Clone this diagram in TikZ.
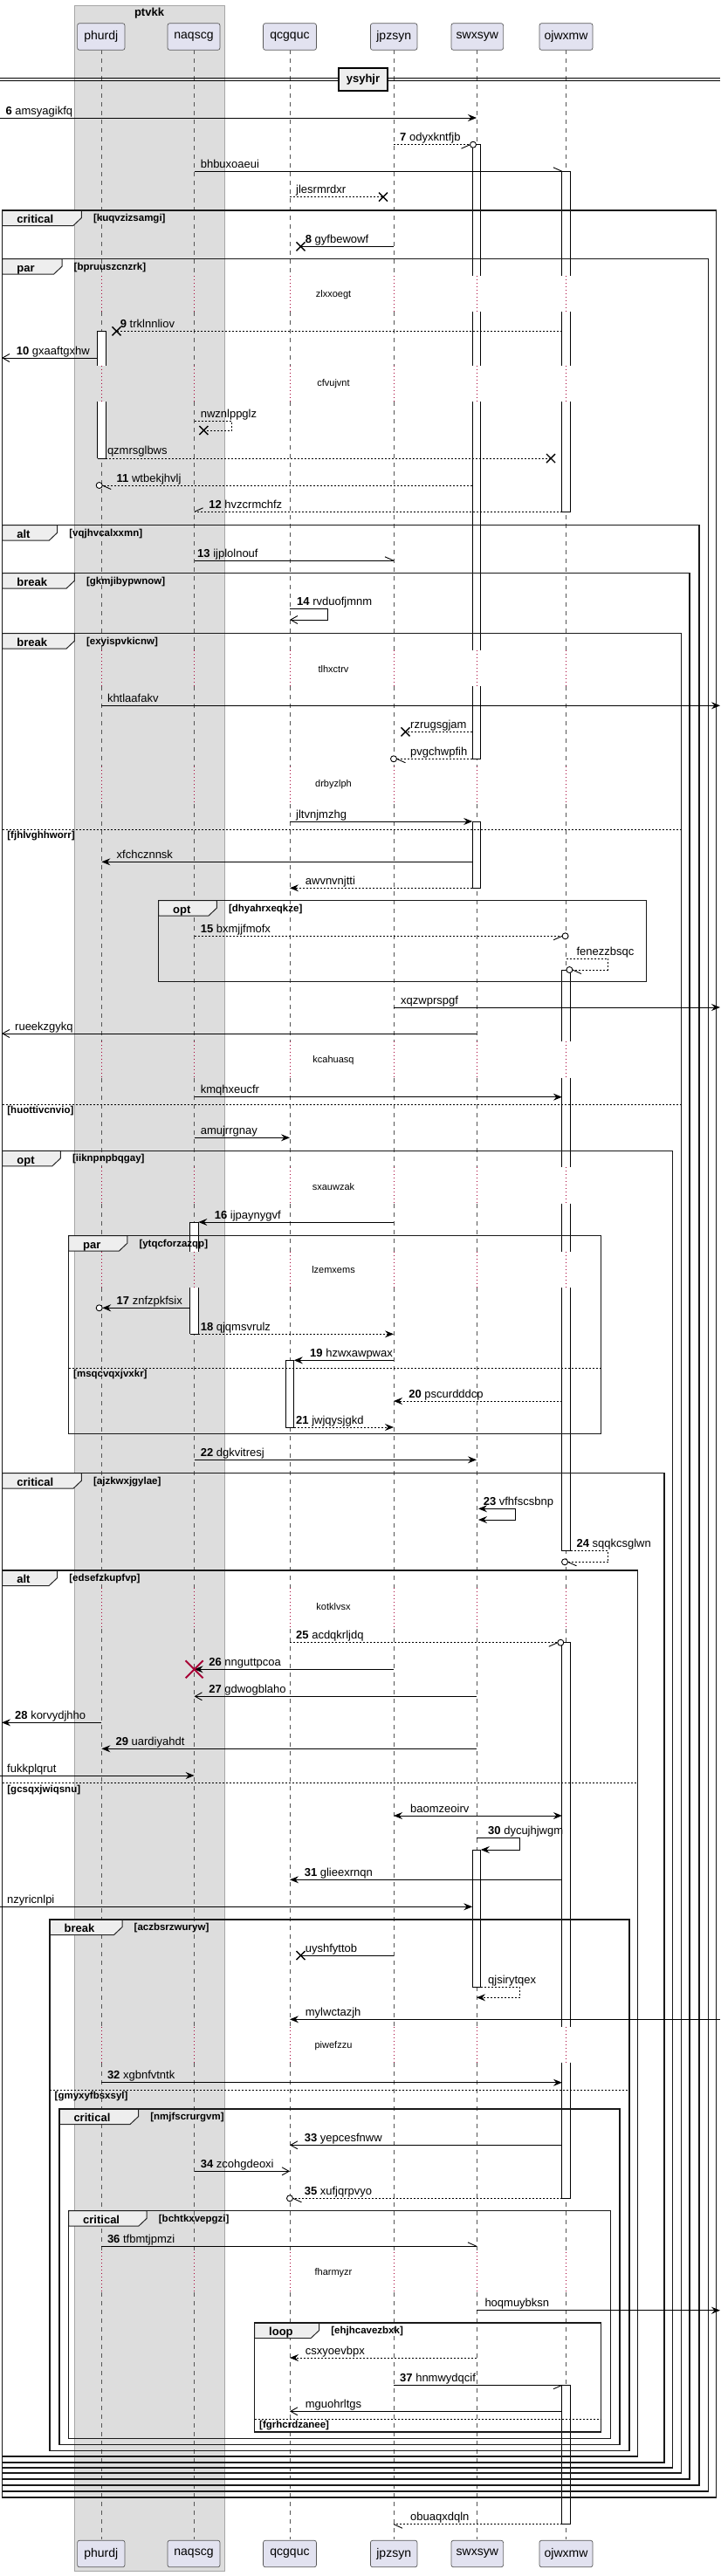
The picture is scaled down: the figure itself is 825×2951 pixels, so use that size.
\documentclass[tikz,border=0pt]{standalone}
\usepackage{fontspec}
\setmainfont{Liberation Sans}
\usetikzlibrary{arrows.meta}
\definecolor{partfill}{HTML}{E2E2F0}
\definecolor{grpfill}{HTML}{DDDDDD}
\definecolor{tabfill}{HTML}{EEEEEE}
\definecolor{delred}{HTML}{A80036}
\definecolor{lifegray}{HTML}{555555}
\newcommand{\Sq}[1]{\textbf{#1}\space}
\newcommand{\Lbl}[4]{\node[lbl] (#1) at (#2,#3) {#4};}
\newcommand{\Mg}[5]{\coordinate (#1a) at (#3,#5); \coordinate (#1b) at (#4,#5); \draw[#2] (#1a) -- (#1b);}
\newcommand{\Xmk}[2]{\draw[xm] (#1,#2) ++(-5,-5) -- ++(10,10) ++(0,-10) -- ++(-10,10);}
\newcommand{\Circ}[2]{\draw[line width=0.9pt, fill=white] (#1,#2) circle[radius=3.5pt];}
\newcommand{\Harp}[4]{\draw[msg] (#1,#2) -- ++(#3,#4);}
\newcommand{\Act}[3]{\fill[white] (#1-4.8,#2) rectangle (#1+4.8,#3); \draw[actbar] (#1-4.8,#2) -- (#1-4.8,#3) (#1+4.8,#2) -- (#1+4.8,#3);}
\newcommand{\Cap}[2]{\draw[actbar] (#1-4.8,#2) -- (#1+4.8,#2);}
\newcommand{\Frm}[8]{%
  \draw[tabst] (#2,#3) -- ++(#7,0) -- ++(0,8.5) -- ++(-9.5,9) -- (#2,#3+17.5) -- cycle;
  \draw[frm] (#2,#3) rectangle (#4,#5);
  \node[tabtxt] (#1k) at (#2+16.5,#3+14.8) {#6};
  \node[grd] (#1g) at (#2+#7+13.5,#3+12.5) {[#8]};}
\newcommand{\Els}[5]{\draw[elsel] (#2,#4) -- (#3,#4); \node[grd] (#1) at (#2+5.5,#4+10.5) {[#5]};}
\begin{document}
\begin{tikzpicture}[x=1pt,y=-1pt,
  msg/.style={line width=0.9pt, draw=black},
  dmsg/.style={msg, dash pattern=on 2pt off 2pt},
  fa/.style={-{Stealth[length=10pt,width=8pt,inset=3.5pt]}},
  fb/.style={{Stealth[length=10pt,width=8pt,inset=3.5pt]}-{Stealth[length=10pt,width=8pt,inset=3.5pt]}},
  oa/.style={-{Straight Barb[length=8pt,width=9pt]}},
  lbl/.style={anchor=base west, inner sep=0pt, font=\fontsize{13}{15}\selectfont},
  dly/.style={inner sep=0pt, font=\fontsize{11}{13}\selectfont},
  frm/.style={line width=1.5pt, draw=black!90},
  tabst/.style={line width=1pt, draw=black!85, fill=tabfill},
  tabtxt/.style={anchor=base west, inner sep=0pt, font=\bfseries\fontsize{13}{15}\selectfont},
  grd/.style={anchor=base west, inner sep=0pt, font=\bfseries\fontsize{11.5}{13}\selectfont},
  elsel/.style={line width=0.9pt, dash pattern=on 2pt off 2pt},
  xm/.style={line width=1.4pt},
  part/.style={draw=black!65, fill=partfill, rounded corners=2.5pt, line width=0.7pt, minimum height=30.6pt, inner sep=0pt, font=\fontsize{14}{16}\selectfont},
  life/.style={draw=lifegray, line width=0.6pt, dash pattern=on 5pt off 5pt},
  dlife/.style={draw=delred, line width=0.8pt, dash pattern=on 1pt off 3pt},
  actbar/.style={line width=0.9pt}]
\useasboundingbox (0,0) rectangle (825,2951);
\fill[white] (0,0) rectangle (825,2951);
% group box
\draw[fill=grpfill, draw=black!35, line width=0.6pt] (85,6) rectangle (257.3,2945.7);
\node[font=\bfseries\fontsize{13}{15}\selectfont, inner sep=0pt] (grpT) at (171,15) {ptvkk};
% lifelines
\foreach \lx in {116.4,222.6,332,451,546,648.7}{
  \foreach \ya/\yb in {57.3/316, 357/418.5, 460/745, 786/878, 921/1192.5, 1234.5/1337, 1378.5/1433.5, 1475/1819, 1866/2322, 2362.5/2580, 2626/2909.3}
    \draw[life] (\lx,\ya) -- (\lx,\yb);
  \foreach \ya/\yb in {316/357, 418.5/460, 745/786, 878/921, 1192.5/1234.5, 1337/1378.5, 1433.5/1475, 1819/1866, 2322/2362.5, 2580/2626}
    \draw[dlife] (\lx,\ya) -- (\lx,\yb);
}
% delays
\node[dly] (d1) at (382,337.3) {zlxxoegt};
\node[dly] (d2) at (382,440) {cfvujvnt};
\node[dly] (d3) at (382,766.7) {tlhxctrv};
\node[dly] (d4) at (382,899) {drbyzlph};
\node[dly] (d5) at (382,1214.3) {kcahuasq};
\node[dly] (d6) at (382,1360) {sxauwzak};
\node[dly] (d7) at (382,1455) {lzemxems};
\node[dly] (d8) at (382,1840.7) {kotklvsx};
\node[dly] (d9) at (382,2343.3) {piwefzzu};
\node[dly] (d10) at (382,2604) {fharmyzr};
% activation bars
\Act{546}{165.7}{316} \Act{546}{357}{418.5} \Act{546}{460}{745} \Act{546}{786}{869.3}
\Cap{546}{165.7} \Cap{546}{869.3}
\Act{648.7}{196.3}{316} \Act{648.7}{357}{418.5} \Act{648.7}{460}{586.3}
\Cap{648.7}{196.3} \Cap{648.7}{586.3}
\Act{116.4}{379.3}{418.5} \Act{116.4}{460}{525}
\Cap{116.4}{379.3} \Cap{116.4}{525}
\Act{546}{941}{1017.3} \Cap{546}{941} \Cap{546}{1017.3}
\Act{648.7}{1111}{1192.5} \Act{648.7}{1234.5}{1337} \Act{648.7}{1378.5}{1433.5} \Act{648.7}{1475}{1776.7}
\Cap{648.7}{1111} \Cap{648.7}{1776.7}
\Act{222.6}{1400}{1433.5} \Act{222.6}{1475}{1528.3}
\Cap{222.6}{1400} \Cap{222.6}{1528.3}
\Act{332}{1558.3}{1635} \Cap{332}{1558.3} \Cap{332}{1635}
\Act{648.7}{1881.7}{2322} \Act{648.7}{2362.5}{2518.3}
\Cap{648.7}{1881.7} \Cap{648.7}{2518.3}
\Act{546}{2119}{2276} \Cap{546}{2119} \Cap{546}{2276}
\Act{648.7}{2732.3}{2891.7} \Cap{648.7}{2732.3} \Cap{648.7}{2891.7}
% frames
\Frm{f1}{2.7}{241}{820.6}{2861}{critical}{90.7}{kuqvzizsamgi}
\Frm{f2}{2.7}{296.7}{811.5}{2854}{par}{68.3}{bpruuszcnzrk}
\Frm{f3}{2.7}{601.7}{801}{2847}{alt}{63}{vqjhvcalxxmn}
\Frm{f4}{2.7}{656.7}{790.2}{2840}{break}{82.7}{gkmjibypwnow}
\Frm{f5}{2.7}{725.7}{780.6}{2833}{break}{82.7}{exyispvkicnw}
\Els{e5a}{2.7}{780.6}{950}{fjhlvghhworr}
\Els{e5b}{2.7}{780.6}{1265.3}{huottivcnvio}
\Frm{f6}{181.5}{1031.7}{740.5}{1124.3}{opt}{66.8}{dhyahrxeqkze}
\Frm{f7}{2.7}{1318.3}{770.4}{2827}{opt}{66.7}{iiknpnpbqgay}
\Frm{f8}{78.5}{1415.7}{688.7}{1642.7}{par}{67.3}{ytqcforzazqp}
\Els{e8}{78.5}{688.7}{1567.3}{msqcvqxjvxkr}
\Frm{f9}{2.7}{1687.7}{760.8}{2821}{critical}{90.7}{ajzkwxjgylae}
\Frm{f10}{2.7}{1799}{730.4}{2814}{alt}{63}{edsefzkupfvp}
\Els{e10}{2.7}{730.4}{2042.7}{gcsqxjwiqsnu}
\Frm{f11}{57}{2199}{720.8}{2807.3}{break}{83}{aczbsrzwuryw}
\Els{e11}{57}{720.8}{2394.3}{gmyxyfbsxsyl}
\Frm{f12}{67.8}{2416}{710}{2800.7}{critical}{90.8}{nmjfscrurgvm}
\Frm{f13}{78.5}{2532.7}{699.4}{2793.7}{critical}{89.7}{bchtkxvepgzi}
\Frm{f14}{291.5}{2661}{688.7}{2786}{loop}{74.2}{ehjhcavezbxk}
\Els{e14}{291.5}{688.7}{2771.3}{fgrhcrdzanee}
% divider
\draw[line width=0.9pt] (0,89.3) -- (825,89.3) (0,92.7) -- (825,92.7);
\node[draw, line width=1.8pt, fill=tabfill, minimum width=56.6pt, minimum height=25.7pt, inner sep=0pt, font=\bfseries\fontsize{13}{15}\selectfont] (div) at (416,91.2) {ysyhjr};
% messages
\Mg{m6}{msg,fa}{0}{546}{135}
\Lbl{l6}{6.4}{131}{\Sq{6}amsyagikfq}
\Mg{m7}{dmsg}{451}{538.5}{165.7}
\Harp{538.5}{165.7}{-10}{4.5}
\Circ{542}{165.7}
\Lbl{l7}{458}{161.7}{\Sq{7}odyxkntfjb}
\Mg{mb}{msg}{222.6}{643.9}{196.3}
\Harp{643.9}{196.3}{-10}{-4.5}
\Lbl{lb}{229.6}{192.3}{bhbuxoaeui}
\Mg{mj}{dmsg}{332}{439}{225.7}
\Xmk{439}{225.7}
\Lbl{lj}{339}{221.7}{jlesrmrdxr}
\Mg{m8}{msg}{451}{344.5}{282.3}
\Xmk{344.5}{282.3}
\Lbl{l8}{349.7}{278.3}{\Sq{8}gyfbewowf}
\Mg{m9}{dmsg}{643.9}{133.5}{379.3}
\Xmk{133.5}{379.3}
\Lbl{l9}{137.7}{375.3}{\Sq{9}trklnnliov}
\Mg{m10}{msg,oa}{111.6}{2}{410}
\Lbl{l10}{18.7}{406}{\Sq{10}gxaaftgxhw}
\coordinate (s1a) at (222.6,482.3); \coordinate (s1b) at (233.3,493);
\draw[dmsg] (s1a) -- (265.4,482.3) -- (265.4,493) -- (s1b);
\Xmk{233.3}{493}
\Lbl{ls1}{229.6}{478.3}{nwznlppglz}
\Mg{mq}{dmsg}{121.2}{631}{525}
\Xmk{631}{525}
\Lbl{lq}{122.8}{520.5}{qzmrsglbws}
\Mg{m11}{dmsg}{541.2}{117.2}{556}
\Harp{117.2}{556}{10}{4.5}
\Circ{113.7}{556}
\Lbl{l11}{133.5}{552}{\Sq{11}wtbekjhvlj}
\Mg{m12}{dmsg}{643.9}{222.6}{586.3}
\Harp{222.6}{586.3}{10}{-4.5}
\Lbl{l12}{239.2}{582.3}{\Sq{12}hvzcrmchfz}
\Mg{m13}{msg}{222.6}{451}{642.3}
\Harp{451}{642.3}{-10}{-4.5}
\Lbl{l13}{226}{638.3}{\Sq{13}ijplolnouf}
\coordinate (s14a) at (332,697.3); \coordinate (s14b) at (332,710);
\draw[msg,oa] (s14a) -- (375.3,697.3) -- (375.3,710) -- (s14b);
\Lbl{l14}{340}{693.3}{\Sq{14}rvduofjmnm}
\Mg{mk}{msg,fa}{116.4}{825}{808.3}
\Lbl{lk}{122.8}{804.3}{khtlaafakv}
\Mg{mr}{dmsg}{541.2}{464.5}{838.3}
\Xmk{464.5}{838.3}
\Lbl{lr}{470}{834.3}{rzrugsgjam}
\Mg{mp}{dmsg}{541.2}{454.5}{869.3}
\Harp{454.5}{869.3}{10}{4.5}
\Circ{451}{869.3}
\Lbl{lp}{470}{865.3}{pvgchwpfih}
\Mg{mjl}{msg,fa}{332}{541.2}{941}
\Lbl{ljl}{339}{937}{jltvnjmzhg}
\Mg{mx}{msg,fa}{541.2}{116.4}{987.3}
\Lbl{lx}{133.5}{983.3}{xfchcznnsk}
\Mg{ma}{dmsg,fa}{541.2}{332}{1017.3}
\Lbl{la}{349.7}{1013.3}{awvnvnjtti}
\Mg{m15}{dmsg}{222.6}{644.1}{1072.3}
\Harp{644.1}{1072.3}{-10}{4.5}
\Circ{647.6}{1072.3}
\Lbl{l15}{229.6}{1068.3}{\Sq{15}bxmjjfmofx}
\coordinate (sfa) at (648.7,1098.3); \coordinate (sfb) at (655.9,1111);
\draw[dmsg] (sfa) -- (696.7,1098.3) -- (696.7,1111) -- (sfb);
\Harp{655.9}{1111}{10}{4.5}
\Circ{652.4}{1111}
\Lbl{lf}{660.4}{1094.3}{fenezzbsqc}
\Mg{mxq}{msg,fa}{451}{825}{1154}
\Lbl{lxq}{459}{1150}{xqzwprspgf}
\Mg{mru}{msg,oa}{546}{2}{1184}
\Lbl{lru}{17}{1180}{rueekzgykq}
\Mg{mkm}{msg,fa}{222.6}{643.9}{1256.7}
\Lbl{lkm}{229.6}{1252.7}{kmqhxeucfr}
\Mg{mam}{msg,fa}{222.6}{332}{1303.3}
\Lbl{lam}{229.6}{1299.3}{amujrrgnay}
\Mg{m16}{msg,fa}{451}{227.4}{1400}
\Lbl{l16}{245.6}{1396}{\Sq{16}ijpaynygvf}
\Mg{m17}{msg,fa}{217.8}{117.2}{1498.3}
\Circ{113.7}{1498.3}
\Lbl{l17}{133.5}{1494.3}{\Sq{17}znfzpkfsix}
\Mg{m18}{dmsg,fa}{227.4}{451}{1528.3}
\Lbl{l18}{229.6}{1524.3}{\Sq{18}qjqmsvrulz}
\Mg{m19}{msg,fa}{451}{336.8}{1558.3}
\Lbl{l19}{355}{1554.3}{\Sq{19}hzwxawpwax}
\Mg{m20}{dmsg,fa}{643.9}{451}{1605}
\Lbl{l20}{468.2}{1601}{\Sq{20}pscurdddcp}
\Mg{m21}{dmsg,fa}{336.8}{451}{1635}
\Lbl{l21}{339}{1631}{\Sq{21}jwjqysjgkd}
\Mg{m22}{msg,fa}{222.6}{546}{1672.3}
\Lbl{l22}{229.6}{1668.3}{\Sq{22}dgkvitresj}
\coordinate (s23a) at (548,1728.3); \coordinate (s23b) at (548,1741);
\draw[msg,fb] (s23a) -- (590,1728.3) -- (590,1741) -- (s23b);
\Lbl{l23}{553.6}{1724.3}{\Sq{23}vfhfscsbnp}
\coordinate (s24a) at (653.5,1776.7); \coordinate (s24b) at (650.5,1789.3);
\draw[dmsg] (s24a) -- (696.7,1776.7) -- (696.7,1789.3) -- (s24b);
\Harp{650.5}{1789.3}{10}{4.5}
\Circ{647}{1789.3}
\Lbl{l24}{660.4}{1772.7}{\Sq{24}sqqkcsglwn}
\Mg{m25}{dmsg}{332}{638.8}{1881.7}
\Harp{638.8}{1881.7}{-10}{4.5}
\Circ{642.3}{1881.7}
\Lbl{l25}{339}{1877.7}{\Sq{25}acdqkrljdq}
\Mg{m26}{msg,fa}{451}{222.6}{1912.3}
\draw[delred, line width=2pt] (222.6,1912.3) ++(-10,-10) -- ++(20,20) ++(0,-20) -- ++(-20,20);
\Lbl{l26}{239.2}{1908.3}{\Sq{26}nnguttpcoa}
\Mg{m27}{msg,oa}{546}{222.6}{1943.3}
\Lbl{l27}{239.2}{1939.3}{\Sq{27}gdwogblaho}
\Mg{m28}{msg,fa}{116.4}{2}{1973.3}
\Lbl{l28}{17}{1969.3}{\Sq{28}korvydjhho}
\Mg{m29}{msg,fa}{546}{116.4}{2003.3}
\Lbl{l29}{132.4}{1999.3}{\Sq{29}uardiyahdt}
\Mg{mfu}{msg,fa}{0}{222.6}{2034}
\Lbl{lfu}{8}{2030}{fukkplqrut}
\Mg{mba}{msg,fb}{451}{643.9}{2080}
\Lbl{lba}{470}{2076}{baomzeoirv}
\coordinate (s30a) at (546,2105.7); \coordinate (s30b) at (550.8,2119);
\draw[msg,fa] (s30a) -- (595.3,2105.7) -- (595.3,2119) -- (s30b);
\Lbl{l30}{559}{2101.7}{\Sq{30}dycujhjwgm}
\Mg{m31}{msg,fa}{643.9}{332}{2153.3}
\Lbl{l31}{348.6}{2149.3}{\Sq{31}glieexrnqn}
\Mg{mnz}{msg,fa}{0}{541.2}{2184.3}
\Lbl{lnz}{8}{2180.3}{nzyricnlpi}
\Mg{muy}{msg}{451}{344.5}{2240}
\Xmk{344.5}{2240}
\Lbl{luy}{349.7}{2236}{uyshfyttob}
\coordinate (sqa) at (550.8,2276); \coordinate (sqb) at (546,2288.3);
\draw[dmsg,fa] (sqa) -- (595.3,2276) -- (595.3,2288.3) -- (sqb);
\Lbl{lqj}{559}{2272}{qjsirytqex}
\Mg{mmy}{msg,fa}{825}{332}{2313.3}
\Lbl{lmy}{349.7}{2309.3}{mylwctazjh}
\Mg{m32}{msg,fa}{116.4}{643.9}{2385.7}
\Lbl{l32}{122.8}{2381.7}{\Sq{32}xgbnfvtntk}
\Mg{m33}{msg,oa}{643.9}{332}{2457.3}
\Lbl{l33}{348.6}{2453.3}{\Sq{33}yepcesfnww}
\Mg{m34}{msg,oa}{222.6}{332}{2487.3}
\Lbl{l34}{229.6}{2483.3}{\Sq{34}zcohgdeoxi}
\Mg{m35}{dmsg}{643.9}{335.5}{2518.3}
\Harp{335.5}{2518.3}{10}{4.5}
\Circ{332}{2518.3}
\Lbl{l35}{348.6}{2514.3}{\Sq{35}xufjqrpvyo}
\Mg{m36}{msg}{116.4}{546}{2573.3}
\Harp{546}{2573.3}{-10}{-4.5}
\Lbl{l36}{122.8}{2569.3}{\Sq{36}tfbmtjpmzi}
\Mg{mho}{msg,fa}{546}{825}{2646.7}
\Lbl{lho}{555.3}{2642.7}{hoqmuybksn}
\Mg{mcs}{dmsg,fa}{546}{332}{2701}
\Lbl{lcs}{349.7}{2697}{csxyoevbpx}
\Mg{m37}{msg}{451}{643.9}{2732.3}
\Harp{643.9}{2732.3}{-10}{4.5}
\Lbl{l37}{458}{2728.3}{\Sq{37}hnmwydqcif}
\Mg{mmg}{msg,oa}{643.9}{332}{2762.3}
\Lbl{lmg}{349.7}{2758.3}{mguohrltgs}
\Mg{mob}{dmsg}{643.9}{451}{2891.7}
\Harp{451}{2891.7}{10}{4.5}
\Lbl{lob}{470}{2887.7}{obuaqxdqln}
% participants
\node[part, minimum width=54.4pt] (phT) at (115.8,42) {phurdj};
\node[part, minimum width=60pt] (naT) at (222,42) {naqscg};
\node[part, minimum width=60.9pt] (qcT) at (332,42) {qcgquc};
\node[part, minimum width=53.5pt] (jpT) at (451.2,42) {jpzsyn};
\node[part, minimum width=59.6pt] (swT) at (546.8,42) {swxsyw};
\node[part, minimum width=61pt] (ojT) at (648.5,42) {ojwxmw};
\node[part, minimum width=54.4pt] (phB) at (115.8,2925.5) {phurdj};
\node[part, minimum width=60pt] (naB) at (222,2925.5) {naqscg};
\node[part, minimum width=60.9pt] (qcB) at (332,2925.5) {qcgquc};
\node[part, minimum width=53.5pt] (jpB) at (451.2,2925.5) {jpzsyn};
\node[part, minimum width=59.6pt] (swB) at (546.8,2925.5) {swxsyw};
\node[part, minimum width=61pt] (ojB) at (648.5,2925.5) {ojwxmw};
\end{tikzpicture}
\end{document}
